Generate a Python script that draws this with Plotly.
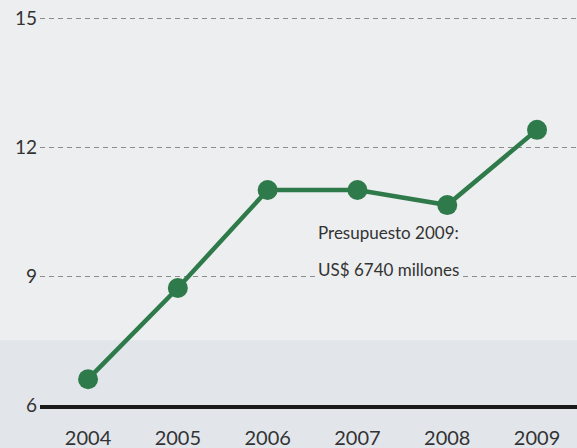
import plotly.graph_objects as go

years = [2004, 2005, 2006, 2007, 2008, 2009]
values = [6.6, 8.72, 11.0, 11.0, 10.65, 12.4]
y_ticks = [6, 9, 12, 15]
note_lines = ["Presupuesto 2009:", "US$ 6740 millones"]
note_levels = [10.02, 9.14]

GREEN = "#2f7a4a"
PAGE = "#eceeef"
FONT = "Lato, 'Open Sans', sans-serif"

fig = go.Figure()
fig.add_trace(go.Scatter(
    x=years, y=values, mode="lines+markers",
    line=dict(color=GREEN, width=4.5),
    marker=dict(color=GREEN, size=20),
    hoverinfo="skip", showlegend=False, cliponaxis=False,
))

for line_text, level in zip(note_lines, note_levels):
    fig.add_annotation(
        x=2006.54, y=level, xref="x", yref="y",
        text=line_text, showarrow=False,
        xanchor="left", yanchor="middle", align="left",
        bgcolor=PAGE, borderpad=1,
        font=dict(family=FONT, size=17, color="#333333"),
    )

# lower light band of the printed page
fig.add_shape(type="rect", xref="paper", yref="paper", x0=-0.08, x1=1, y0=-0.2, y1=0.16,
              fillcolor="#e2e6eb", line=dict(width=0), layer="below")

fig.update_layout(
    width=577, height=448,
    margin=dict(l=40, r=0, t=0, b=43),
    paper_bgcolor=PAGE, plot_bgcolor="rgba(0,0,0,0)",
    font=dict(family=FONT, color="#333333"),
    xaxis=dict(
        range=[2003.465, 2009.445], tickvals=years, ticktext=[str(y) for y in years],
        showgrid=False, zeroline=False, showline=True, linecolor="#1a1a1a", linewidth=4,
        ticks="", tickfont=dict(size=20, color="#333333"), ticklabelstandoff=12,
        fixedrange=True,
    ),
    yaxis=dict(
        range=[6, 15.419], tickvals=y_ticks, ticktext=[str(v) for v in y_ticks],
        showgrid=True, gridcolor="#8c8c8c", gridwidth=1, griddash="5px,4px",
        zeroline=False, showline=False, ticks="",
        tickfont=dict(size=19, color="#333333"), ticklabelstandoff=2,
        fixedrange=True,
    ),
)

fig.write_html(
    "out.html",
    config={"displayModeBar": False, "staticPlot": True},
    post_script="document.body.style.margin='0';document.body.style.background='%s';" % PAGE,
)
